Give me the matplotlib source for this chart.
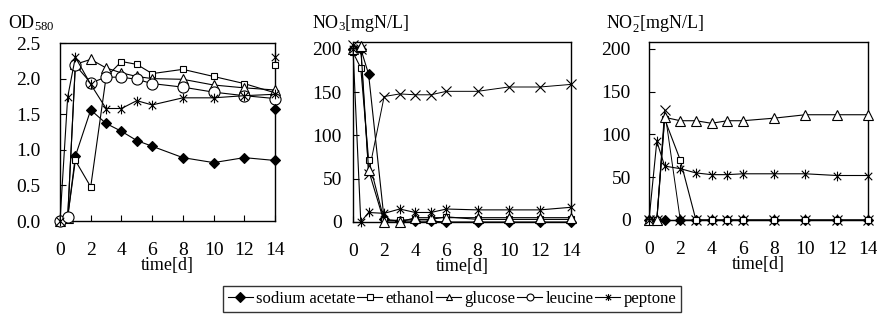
import matplotlib
matplotlib.use("Agg")
import matplotlib.pyplot as plt
from matplotlib.path import Path
from matplotlib.lines import Line2D

plt.rcParams["font.family"] = ["Liberation Serif", "DejaVu Serif"]
plt.rcParams["mathtext.default"] = "regular"
plt.rcParams["font.size"] = 13

# sampling days
days = [0, 0.5, 1, 2, 3, 4, 5, 6, 8, 10, 12, 14]
series_names = ["sodium acetate", "ethanol", "glucose", "leucine", "peptone"]

# OD580
od_acetate = [0, 0.05, 0.91, 1.56, 1.37, 1.26, 1.13, 1.05, 0.89, 0.82, 0.89, 0.85]
od_ethanol = [0, 0.06, 0.85, 0.48, 2.02, 2.24, 2.20, 2.07, 2.13, 2.03, 1.93, 1.80]
od_glucose = [0, 0.04, 2.20, 2.27, 2.15, 2.08, 2.03, 2.00, 1.99, 1.91, 1.87, 1.84]
od_leucine = [0, 0.05, 2.19, 1.94, 2.02, 2.02, 1.99, 1.93, 1.88, 1.81, 1.76, 1.72]
od_peptone = [0, 1.74, 2.30, 1.92, 1.58, 1.58, 1.69, 1.63, 1.73, 1.73, 1.76, 1.78]
# stray markers sitting on the right border (day 14)
od_edge_series = ["sodium acetate", "ethanol", "peptone"]
od_edge_values = [1.58, 2.19, 2.31]

# NO3 [mgN/L]
no3_acetate = [200, 200, 171, 3, 1, 1, 1, 0, 0, 0, 0, 0]
no3_ethanol = [196, 178, 72, 2, 2, 3, 3, 6, 3, 3, 3, 3]
no3_glucose = [200, 203, 60, 0, 0, 5, 5, 5, 5, 5, 5, 5]
no3_peptone = [200, 0, 11, 10, 15, 11, 11, 15, 14, 14, 14, 17]
no3_cross = [205, 200, 56, 145, 148, 147, 147, 151, 151, 156, 156, 159]

# NO2- [mgN/L]
no2_acetate = [0, 0, 0, 0, 0, 0, 0, 0, 0, 0, 0, 0]
no2_ethanol = [0, 0, 118, 70, 0, 0, 0, 0, 0, 0, 0, 0]
no2_glucose = [0, 0, 120, 116, 116, 113, 116, 116, 119, 123, 123, 123]
no2_peptone = [0, 92, 63, 60, 55, 53, 53, 54, 54, 54, 52, 52]
no2_cross = [0, 0, 128, 0, 0, 0, 0, 0, 0, 0, 0, 0]

# Excel style asterisk: an x with a vertical bar
asterisk = Path(
    [(-1, -1), (1, 1), (-1, 1), (1, -1), (0, -1.3), (0, 1.3)],
    [Path.MOVETO, Path.LINETO, Path.MOVETO, Path.LINETO, Path.MOVETO, Path.LINETO],
)

styles = {
    "sodium acetate": dict(marker="D", ms=5, mfc="black", mec="black"),
    "ethanol": dict(marker="s", ms=4.5, mfc="white", mec="black"),
    "glucose": dict(marker="^", ms=7, mfc="white", mec="black"),
    "leucine": dict(marker="o", ms=8, mfc="white", mec="black"),
    "peptone": dict(marker=asterisk, ms=7, mfc="none", mec="black"),
}

fig = plt.figure(figsize=(8.77, 3.31), dpi=100)
W, H = 877, 331


def make_axes(x0, x1, y0, y1):
    return fig.add_axes([x0 / W, 1 - y1 / H, (x1 - x0) / W, (y1 - y0) / H])


ax1 = make_axes(60, 275, 43, 221)
ax2 = make_axes(353, 571, 42, 222)
ax3 = make_axes(649, 868, 42, 220)

panels = [
    (ax1, {"sodium acetate": od_acetate, "ethanol": od_ethanol, "glucose": od_glucose,
           "leucine": od_leucine, "peptone": od_peptone}, None, 14),
    (ax2, {"sodium acetate": no3_acetate, "ethanol": no3_ethanol, "glucose": no3_glucose,
           "peptone": no3_peptone}, no3_cross, 8),
    (ax3, {"sodium acetate": no2_acetate, "ethanol": no2_ethanol, "glucose": no2_glucose,
           "peptone": no2_peptone}, no2_cross, 13),
]

for ax, data, cross, ypad in panels:
    if cross is not None:
        ax.plot(days, cross, color="black", lw=0.7, marker="x", ms=7, mec="black",
                mew=0.8, clip_on=False, zorder=3)
    for name in series_names:
        if name in data:
            ax.plot(days, data[name], color="black", lw=0.8, mew=0.8,
                    clip_on=False, zorder=4, **styles[name])
    ax.set_xlim(0, 14)
    ax.set_xticks(range(0, 15, 2))
    ax.tick_params(direction="in", length=4, width=0.8, top=False, right=False,
                   labelsize=14, pad=15)
    ax.tick_params(axis="y", pad=ypad)
    for s in ax.spines.values():
        s.set_linewidth(1.0)
    ax.set_xlabel("time[d]", fontsize=13, labelpad=-1)

for name, val in zip(od_edge_series, od_edge_values):
    ax1.plot([14], [val], ls="none", mew=0.8, clip_on=False, zorder=5, **styles[name])

ax1.set_ylim(0, 2.5)
ax1.set_yticks([0, 0.5, 1.0, 1.5, 2.0, 2.5])
ax1.set_yticklabels(["0.0", "0.5", "1.0", "1.5", "2.0", "2.5"])
for ax in (ax2, ax3):
    ax.set_ylim(0, 208)
    ax.set_yticks([0, 50, 100, 150, 200])

fig.text(8 / W, 1 - 23 / H, "OD$_{580}$", fontsize=13, va="center", ha="left")
fig.text(312 / W, 1 - 24 / H, "NO$_3$[mgN/L]", fontsize=13, va="center", ha="left")
fig.text(606 / W, 1 - 24 / H, "NO$_2^{-}$[mgN/L]", fontsize=13, va="center", ha="left")

handles = [Line2D([], [], color="black", lw=0.8, mew=0.8, **styles[n]) for n in series_names]
for h in handles:
    h.set_markersize(5)
leg = fig.legend(handles, series_names, loc="center", bbox_to_anchor=(452 / W, 1 - 299 / H),
                 ncol=5, frameon=True, fancybox=False, fontsize=12, handlelength=1.5,
                 handletextpad=0.2, columnspacing=0.1, borderpad=0.3, borderaxespad=0)
leg.get_frame().set_edgecolor("black")
leg.get_frame().set_linewidth(1.0)

fig.savefig("out.png", dpi=100)
